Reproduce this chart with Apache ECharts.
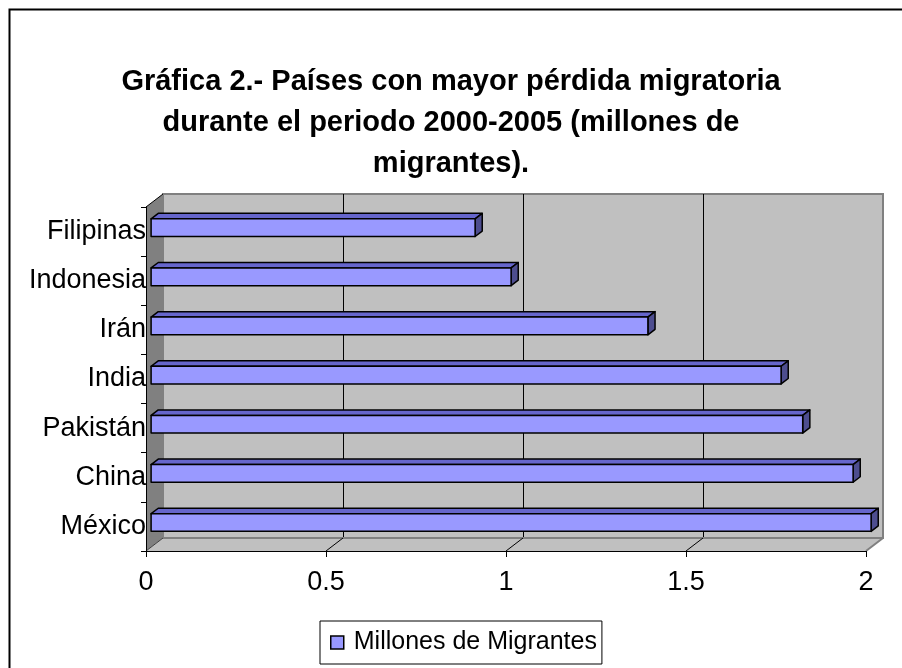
<!DOCTYPE html>
<html>
<head>
    <meta charset="UTF-8">
    <title>Gráfica 2</title>
    <script src="https://cdn.jsdelivr.net/npm/echarts@6/dist/echarts.min.js"></script>
</head>
<body style="margin:0;">
<div id="chart" style="width:902px; height:668px;"></div>
<script>
    // datos
    var categories = ['México', 'China', 'Pakistán', 'India', 'Irán', 'Indonesia', 'Filipinas'];
    var migrantes = [2.0, 1.95, 1.81, 1.75, 1.38, 1.0, 0.9];
    var xTicks = [0, 0.5, 1, 1.5, 2];
    var seriesName = 'Millones de Migrantes';
    var titleText = 'Gráfica 2.- Países con mayor pérdida migratoria\ndurante el periodo 2000-2005 (millones de\nmigrantes).';

    var font = 'Liberation Sans, Arial, sans-serif';
    // profundidad del efecto 3D (pared del fondo)
    var depth = [17, -13];
    // la barra va de 0.3 a 0.72 de la profundidad
    var barFront = 0.3, barBack = 0.72;

    var chart = echarts.init(document.getElementById('chart'), null, {renderer: 'canvas'});

    function renderWalls(params, api) {
        var cs = params.coordSys;
        var x0 = cs.x, x1 = cs.x + cs.width, yt = cs.y, yb = cs.y + cs.height;
        var dx = depth[0], dy = depth[1];
        var children = [];
        // pared lateral
        children.push({
            type: 'polygon',
            shape: {points: [[x0, yt], [x0 + dx, yt + dy], [x0 + dx, yb + dy], [x0, yb]]},
            style: {fill: '#808080', stroke: null}
        });
        // piso
        children.push({
            type: 'polygon',
            shape: {points: [[x0, yb], [x0 + dx, yb + dy], [x1 + dx, yb + dy], [x1, yb]]},
            style: {fill: '#c0c0c0', stroke: null}
        });
        children.push({
            type: 'line',
            shape: {x1: x0 + dx, y1: yb + dy, x2: x1 + dx, y2: yb + dy},
            style: {stroke: '#808080', lineWidth: 2}
        });
        children.push({
            type: 'line',
            shape: {x1: x1, y1: yb, x2: x1 + dx, y2: yb + dy},
            style: {stroke: '#808080', lineWidth: 2}
        });
        children.push({
            type: 'line',
            shape: {x1: x0, y1: yt, x2: x0 + dx, y2: yt + dy},
            style: {stroke: '#000', lineWidth: 1}
        });
        // líneas diagonales del piso
        xTicks.forEach(function (v, i) {
            if (i === xTicks.length - 1) return;
            var px = api.coord([v, 0])[0];
            children.push({
                type: 'line',
                shape: {x1: px, y1: yb, x2: px + dx, y2: yb + dy},
                style: {stroke: i === 0 ? '#404040' : '#000', lineWidth: 1}
            });
        });
        return {type: 'group', children: children};
    }

    function renderBar(params, api) {
        var val = api.value(0);
        var idx = api.value(1);
        var start = api.coord([0, idx]);
        var end = api.coord([val, idx]);
        var band = api.size([0, 1])[1];
        var h = band * 0.36;
        var ox = depth[0] * barFront, oy = depth[1] * barFront;
        var ddx = depth[0] * (barBack - barFront), ddy = depth[1] * (barBack - barFront);
        var xl = start[0] + ox, xr = end[0] + ox;
        var yt = start[1] + oy - h / 2, yb = start[1] + oy + h / 2;
        var line = {stroke: '#000', lineWidth: 1.5, lineJoin: 'round'};
        return {
            type: 'group',
            children: [
                {
                    type: 'polygon',
                    shape: {points: [[xl, yt], [xr, yt], [xr + ddx, yt + ddy], [xl + ddx, yt + ddy]]},
                    style: Object.assign({fill: '#6666cc'}, line)
                },
                {
                    type: 'polygon',
                    shape: {points: [[xr, yt], [xr + ddx, yt + ddy], [xr + ddx, yb + ddy], [xr, yb]]},
                    style: Object.assign({fill: '#4d4d8f'}, line)
                },
                {
                    type: 'rect',
                    shape: {x: xl, y: yt, width: xr - xl, height: h},
                    style: Object.assign({fill: '#9999ff'}, line)
                }
            ]
        };
    }

    var option = {
        backgroundColor: '#fff',
        animation: false,
        textStyle: {fontFamily: font},
        title: {
            text: titleText,
            left: 'center',
            top: 56,
            textStyle: {
                fontFamily: font,
                fontSize: 29,
                fontWeight: 'bold',
                color: '#000',
                lineHeight: 41
            }
        },
        legend: {
            left: 320,
            top: 621,
            padding: [9, 5, 9, 10],
            borderColor: '#000',
            borderWidth: 1,
            itemWidth: 13,
            itemHeight: 13,
            selectedMode: false,
            textStyle: {fontFamily: font, fontSize: 25, color: '#000', padding: [0, 0, 0, 5]},
            data: [{
                name: seriesName,
                icon: 'rect',
                itemStyle: {color: '#9999ff', borderColor: '#000', borderWidth: 1.5}
            }]
        },
        grid: [
            // plano frontal
            {left: 146, right: 36, top: 207, bottom: 117},
            // pared del fondo
            {
                left: 163, right: 19, top: 194, bottom: 130,
                show: true, backgroundColor: '#c0c0c0',
                borderColor: '#808080', borderWidth: 2
            }
        ],
        xAxis: [
            {
                type: 'value',
                gridIndex: 0,
                min: xTicks[0],
                max: xTicks[xTicks.length - 1],
                interval: 0.5,
                z: 10,
                axisLine: {show: true, lineStyle: {color: '#000', width: 1}},
                axisTick: {show: true, length: 6, lineStyle: {color: '#000'}},
                axisLabel: {fontFamily: font, fontSize: 27, color: '#000', margin: 18},
                splitLine: {show: false}
            },
            {
                type: 'value',
                gridIndex: 1,
                min: xTicks[0],
                max: xTicks[xTicks.length - 1],
                interval: 0.5,
                axisLine: {show: false},
                axisTick: {show: false},
                axisLabel: {show: false},
                splitLine: {
                    show: true, showMinLine: false, showMaxLine: false,
                    lineStyle: {color: '#000', width: 1}
                }
            }
        ],
        yAxis: [
            {
                type: 'category',
                gridIndex: 0,
                data: categories,
                z: 10,
                axisLine: {show: true, lineStyle: {color: '#000', width: 1}},
                axisTick: {show: true, length: 5, lineStyle: {color: '#000'}},
                axisLabel: {fontFamily: font, fontSize: 27, color: '#000', margin: 0}
            },
            {
                type: 'value',
                gridIndex: 1,
                show: false,
                splitLine: {show: false}
            }
        ],
        series: [
            {
                type: 'custom',
                xAxisIndex: 0,
                yAxisIndex: 0,
                z: 1,
                silent: true,
                renderItem: renderWalls,
                data: [[0, 0]]
            },
            {
                name: seriesName,
                type: 'custom',
                xAxisIndex: 0,
                yAxisIndex: 0,
                z: 3,
                itemStyle: {color: '#9999ff'},
                renderItem: renderBar,
                encode: {x: 0, y: 1},
                data: migrantes.map(function (v, i) { return [v, i]; })
            }
        ],
        graphic: [
            {
                type: 'rect',
                left: 7,
                top: 7,
                shape: {width: 900, height: 665},
                style: {fill: null, stroke: '#000', lineWidth: 2}
            }
        ]
    };

    chart.setOption(option);
</script>
</body>
</html>
